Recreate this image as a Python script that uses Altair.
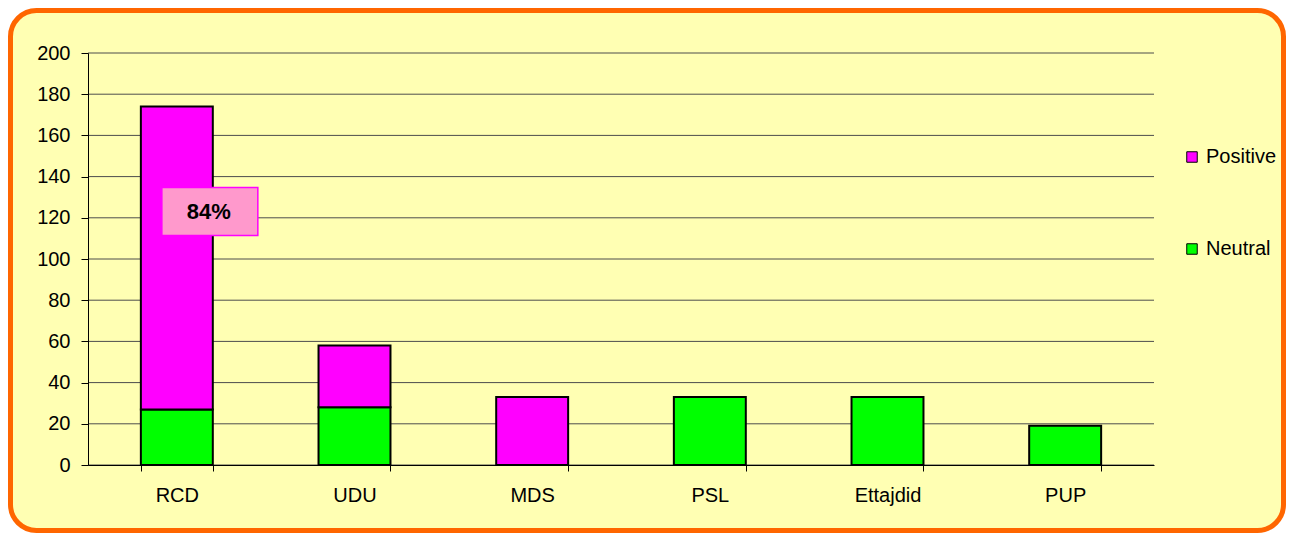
import altair as alt
import pandas as pd

parties = ["RCD", "UDU", "MDS", "PSL", "Ettajdid", "PUP"]
neutral = [27, 28, 0, 33, 33, 19]
positive = [147, 30, 33, 0, 0, 0]
series = ["Positive", "Neutral"]
colors = ["#FF00FF", "#00FF00"]
y_ticks = list(range(0, 201, 20))

label_party = ["RCD"]
label_value = [123]
label_text = ["84%"]

rows = []
for p, n, pos in zip(parties, neutral, positive):
    if n:
        rows.append({"party": p, "series": "Neutral", "value": n, "order": 0})
    if pos:
        rows.append({"party": p, "series": "Positive", "value": pos, "order": 1})
df = pd.DataFrame(rows)
label_df = pd.DataFrame({"party": label_party, "value": label_value, "text": label_text})
grid_df = pd.DataFrame({"tick": y_ticks})

xscale = alt.Scale(domain=parties, paddingInner=0.595, paddingOuter=0.2975)
yscale = alt.Scale(domain=[0, 200], nice=False)

frame = alt.Chart(alt.Data(values=[{"a": 1}])).mark_rect(
    fill="#FFFFB3", stroke="#FF6600", strokeWidth=5, cornerRadius=26
).encode(
    x=alt.value(-77.5), x2=alt.value(1195.5), y=alt.value(-42.5), y2=alt.value(477.5)
)

grid = alt.Chart(grid_df).mark_rule(color="#4d4d4d", strokeWidth=1).encode(
    y=alt.Y("tick:Q", scale=yscale)
)

bars = alt.Chart(df).mark_bar(stroke="black", strokeWidth=2).encode(
    x=alt.X("party:N", scale=xscale, sort=parties,
            axis=alt.Axis(title=None, labelAngle=0, tickBand="extent", tickSize=6,
                          labelPadding=14, grid=False, zindex=1)),
    y=alt.Y("value:Q", stack="zero", scale=yscale,
            axis=alt.Axis(title=None, values=y_ticks, tickSize=7, labelPadding=11,
                          grid=False, zindex=1)),
    color=alt.Color("series:N", scale=alt.Scale(domain=series, range=colors),
                    legend=alt.Legend(title=None, orient="none", legendX=1094, legendY=94,
                                      symbolType="square", symbolSize=110,
                                      symbolStrokeColor="black", symbolStrokeWidth=1,
                                      labelFontSize=20, labelFont="Liberation Sans",
                                      labelColor="black", rowPadding=72, labelOffset=4)),
    order=alt.Order("order:Q"),
)

box = alt.Chart(label_df).mark_point(
    shape="M-1,-0.5L1,-0.5L1,0.5L-1,0.5Z", size=9216, filled=True,
    fill="#FF99CC", stroke="#FF00FF", strokeWidth=1.5, opacity=1, xOffset=33
).encode(
    x=alt.X("party:N", scale=xscale, sort=parties),
    y=alt.Y("value:Q", scale=yscale),
)

txt = alt.Chart(label_df).mark_text(
    fontSize=22, fontWeight="bold", font="Liberation Sans", color="black", dx=32
).encode(
    x=alt.X("party:N", scale=xscale, sort=parties),
    y=alt.Y("value:Q", scale=yscale),
    text="text:N",
)

chart = alt.layer(frame, grid, bars, box, txt).properties(
    width=1066, height=412,
    autosize=alt.AutoSizeParams(type="none"),
    padding={"left": 80, "top": 45, "right": 132, "bottom": 68},
    background="white",
).configure_view(stroke="transparent").configure_axis(
    labelFont="Liberation Sans", labelFontSize=20, labelColor="black",
    domainColor="black", tickColor="black", domainWidth=1,
)

chart.save("out.html", embed_options={"renderer": "svg", "actions": False})
